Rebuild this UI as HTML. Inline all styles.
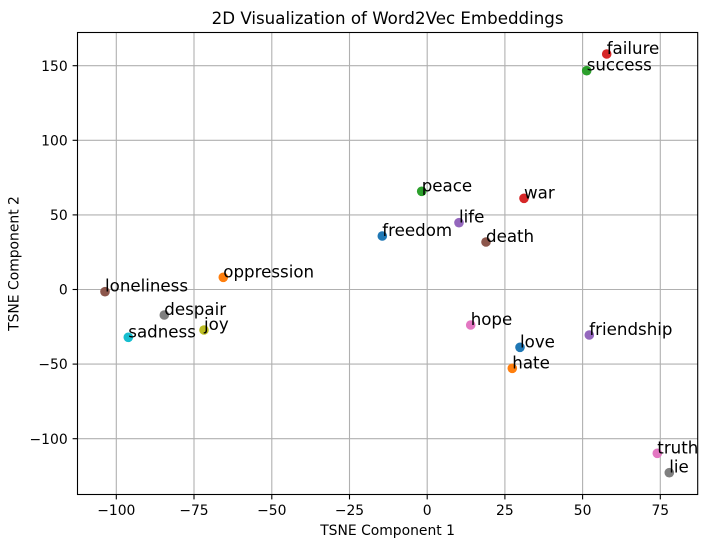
<!DOCTYPE html>
<html>
<head>
<meta charset="utf-8">
<style>
  html, body { margin: 0; padding: 0; background: #ffffff; }
  svg { display: block; }
  text { font-family: "DejaVu Sans", "Liberation Sans", sans-serif; fill: #000; }
</style>
</head>
<body>
<svg width="708" height="547" viewBox="0 0 708 547" xmlns="http://www.w3.org/2000/svg">
  <rect x="0" y="0" width="708" height="547" fill="#ffffff"/>
  <!-- grid -->
  <g stroke="#b0b0b0" stroke-width="1.1">
    <line x1="116.3" y1="32.5" x2="116.3" y2="494.5"/>
    <line x1="194.0" y1="32.5" x2="194.0" y2="494.5"/>
    <line x1="271.8" y1="32.5" x2="271.8" y2="494.5"/>
    <line x1="349.5" y1="32.5" x2="349.5" y2="494.5"/>
    <line x1="427.2" y1="32.5" x2="427.2" y2="494.5"/>
    <line x1="504.9" y1="32.5" x2="504.9" y2="494.5"/>
    <line x1="582.6" y1="32.5" x2="582.6" y2="494.5"/>
    <line x1="660.3" y1="32.5" x2="660.3" y2="494.5"/>
    <line x1="77.5" y1="438.7" x2="697.7" y2="438.7"/>
    <line x1="77.5" y1="364.1" x2="697.7" y2="364.1"/>
    <line x1="77.5" y1="289.5" x2="697.7" y2="289.5"/>
    <line x1="77.5" y1="214.9" x2="697.7" y2="214.9"/>
    <line x1="77.5" y1="140.3" x2="697.7" y2="140.3"/>
    <line x1="77.5" y1="65.7" x2="697.7" y2="65.7"/>
  </g>
  <!-- points -->
  <g>
    <circle cx="382.3" cy="236" r="4.8" fill="#1f77b4"/>
    <circle cx="223.3" cy="277.3" r="4.8" fill="#ff7f0e"/>
    <circle cx="421.7" cy="191.3" r="4.8" fill="#2ca02c"/>
    <circle cx="524" cy="198.3" r="4.8" fill="#d62728"/>
    <circle cx="459" cy="222.7" r="4.8" fill="#9467bd"/>
    <circle cx="486" cy="242" r="4.8" fill="#8c564b"/>
    <circle cx="470.7" cy="325" r="4.8" fill="#e377c2"/>
    <circle cx="164.3" cy="315" r="4.8" fill="#7f7f7f"/>
    <circle cx="204" cy="330" r="4.8" fill="#bcbd22"/>
    <circle cx="128.3" cy="337.3" r="4.8" fill="#17becf"/>
    <circle cx="520" cy="347.3" r="4.8" fill="#1f77b4"/>
    <circle cx="512.3" cy="368.3" r="4.8" fill="#ff7f0e"/>
    <circle cx="586.7" cy="70.7" r="4.8" fill="#2ca02c"/>
    <circle cx="606.7" cy="54" r="4.8" fill="#d62728"/>
    <circle cx="589.3" cy="335" r="4.8" fill="#9467bd"/>
    <circle cx="105" cy="291.7" r="4.8" fill="#8c564b"/>
    <circle cx="657.3" cy="453.3" r="4.8" fill="#e377c2"/>
    <circle cx="669.3" cy="472.7" r="4.8" fill="#7f7f7f"/>
  </g>
  <!-- labels -->
  <g font-size="16.67">
    <text x="382.3" y="236">freedom</text>
    <text x="223.3" y="277.3">oppression</text>
    <text x="421.7" y="191.3">peace</text>
    <text x="524" y="198.3">war</text>
    <text x="459" y="222.7">life</text>
    <text x="486" y="242">death</text>
    <text x="470.7" y="325">hope</text>
    <text x="164.3" y="315">despair</text>
    <text x="204" y="330">joy</text>
    <text x="128.3" y="337.3">sadness</text>
    <text x="520" y="347.3">love</text>
    <text x="512.3" y="368.3">hate</text>
    <text x="586.7" y="70.7">success</text>
    <text x="606.7" y="54">failure</text>
    <text x="589.3" y="335">friendship</text>
    <text x="105" y="291.7">loneliness</text>
    <text x="657.3" y="453.3">truth</text>
    <text x="669.3" y="472.7">lie</text>
  </g>
  <!-- spines -->
  <rect x="77.5" y="32.5" width="620.2" height="462" fill="none" stroke="#000" stroke-width="1.1"/>
  <!-- ticks -->
  <g stroke="#000" stroke-width="1.1">
    <line x1="116.3" y1="494.5" x2="116.3" y2="499.4"/>
    <line x1="194.0" y1="494.5" x2="194.0" y2="499.4"/>
    <line x1="271.8" y1="494.5" x2="271.8" y2="499.4"/>
    <line x1="349.5" y1="494.5" x2="349.5" y2="499.4"/>
    <line x1="427.2" y1="494.5" x2="427.2" y2="499.4"/>
    <line x1="504.9" y1="494.5" x2="504.9" y2="499.4"/>
    <line x1="582.6" y1="494.5" x2="582.6" y2="499.4"/>
    <line x1="660.3" y1="494.5" x2="660.3" y2="499.4"/>
    <line x1="72.6" y1="438.7" x2="77.5" y2="438.7"/>
    <line x1="72.6" y1="364.1" x2="77.5" y2="364.1"/>
    <line x1="72.6" y1="289.5" x2="77.5" y2="289.5"/>
    <line x1="72.6" y1="214.9" x2="77.5" y2="214.9"/>
    <line x1="72.6" y1="140.3" x2="77.5" y2="140.3"/>
    <line x1="72.6" y1="65.7" x2="77.5" y2="65.7"/>
  </g>
  <!-- x tick labels -->
  <g font-size="13.9" text-anchor="middle">
    <text x="116.3" y="515">−100</text>
    <text x="194.0" y="515">−75</text>
    <text x="271.8" y="515">−50</text>
    <text x="349.5" y="515">−25</text>
    <text x="427.2" y="515">0</text>
    <text x="504.9" y="515">25</text>
    <text x="582.6" y="515">50</text>
    <text x="660.3" y="515">75</text>
  </g>
  <!-- y tick labels -->
  <g font-size="13.9" text-anchor="end">
    <text x="67.7" y="443.8">−100</text>
    <text x="67.7" y="369.2">−50</text>
    <text x="67.7" y="294.6">0</text>
    <text x="67.7" y="220.0">50</text>
    <text x="67.7" y="145.4">100</text>
    <text x="67.7" y="70.8">150</text>
  </g>
  <!-- axis labels -->
  <text x="387.6" y="535" font-size="13.9" text-anchor="middle">TSNE Component 1</text>
  <text transform="translate(18.5,263.5) rotate(-90)" font-size="13.9" text-anchor="middle">TSNE Component 2</text>
  <!-- title -->
  <text x="387.6" y="24" font-size="16.67" text-anchor="middle">2D Visualization of Word2Vec Embeddings</text>
</svg>
</body>
</html>
